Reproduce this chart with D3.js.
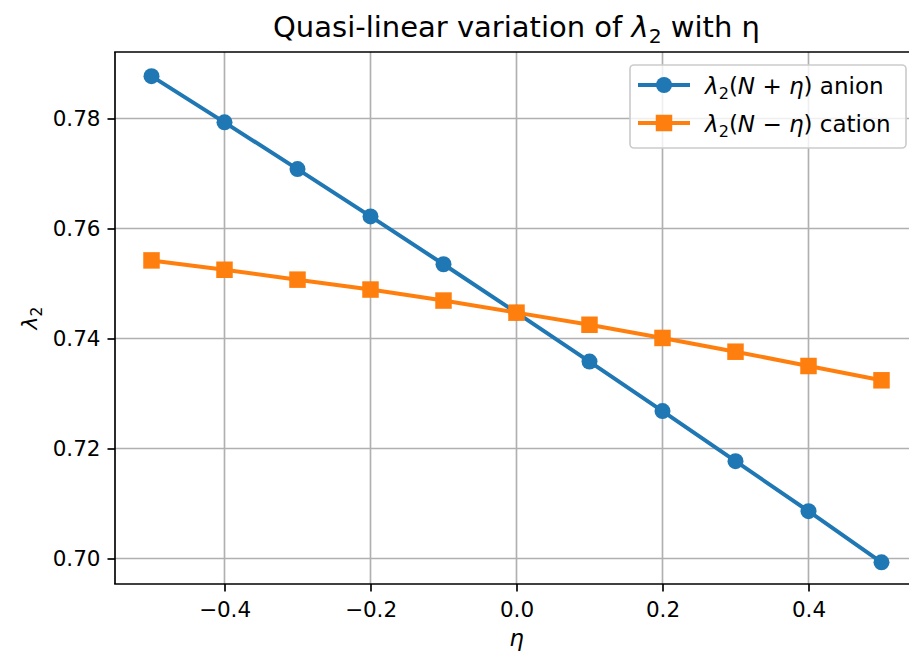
<!DOCTYPE html>
<html><head><meta charset="utf-8">
<script src="https://cdn.jsdelivr.net/npm/d3@7"></script>
<style>
body{margin:0;background:#fff;overflow:hidden}
svg{display:block;font-family:"DejaVu Sans",sans-serif}
text{white-space:pre}
</style>
</head><body><svg id="c" width="909" height="655"></svg>
<script>
const eta = [-0.5, -0.4, -0.3, -0.2, -0.1, 0.0, 0.1, 0.2, 0.3, 0.4, 0.5];
const anion = [0.7877, 0.7793, 0.7708, 0.7622, 0.7535, 0.7447, 0.7358, 0.7268, 0.7177, 0.7086, 0.6993];
const cation = [0.7542, 0.7525, 0.7507, 0.7489, 0.7469, 0.7447, 0.7425, 0.7401, 0.7376, 0.7350, 0.7324];
const xTicks = [-0.4, -0.2, 0.0, 0.2, 0.4];
const yTicks = [0.70, 0.72, 0.74, 0.76, 0.78];
const seriesNames = ["anion", "cation"];
const colors = ["#1f77b4", "#ff7f0e"];

const svg = d3.select("#c");
const L = 115, R = 918, T = 52, B = 584;
const x = d3.scaleLinear().domain([-0.55, 0.55]).range([L, R]);
const y = d3.scaleLinear().domain([0.70, 0.78]).range([558.5, 118.5]);

const FS = 21.5;

// grid
const g = svg.append("g");
g.selectAll(".vg").data(xTicks).join("line")
  .attr("x1", d => x(d)).attr("x2", d => x(d)).attr("y1", T).attr("y2", B)
  .attr("stroke", "#b0b0b0").attr("stroke-width", 1.67);
g.selectAll(".hg").data(yTicks).join("line")
  .attr("x1", L).attr("x2", R).attr("y1", d => y(d)).attr("y2", d => y(d))
  .attr("stroke", "#b0b0b0").attr("stroke-width", 1.67);

// axes
const fx = d3.format(".1f"), fy = d3.format(".2f");
const xAxis = d3.axisBottom(x).tickValues(xTicks).tickFormat(fx).tickSize(7.5).tickPadding(8);
const yAxis = d3.axisLeft(y).tickValues(yTicks).tickFormat(fy).tickSize(7.5).tickPadding(7);
const gx = svg.append("g").attr("transform", `translate(0,${B})`).call(xAxis);
const gy = svg.append("g").attr("transform", `translate(${L},0)`).call(yAxis);
[gx, gy].forEach(a => {
  a.select(".domain").remove();
  a.selectAll(".tick line").attr("stroke", "#000").attr("stroke-width", 1.67);
  a.selectAll(".tick text").attr("fill", "#000").attr("font-size", FS)
   .attr("font-family", "DejaVu Sans");
});
gx.selectAll(".tick text").attr("dy", "0.8em");

// spines
svg.append("line").attr("x1", L).attr("x2", L).attr("y1", T).attr("y2", B).attr("stroke", "#000").attr("stroke-width", 1.67);
svg.append("line").attr("x1", L).attr("x2", R).attr("y1", B).attr("y2", B).attr("stroke", "#000").attr("stroke-width", 1.67).attr("stroke-linecap", "square");
svg.append("line").attr("x1", L).attr("x2", R).attr("y1", T).attr("y2", T).attr("stroke", "#000").attr("stroke-width", 1.67).attr("stroke-linecap", "square");
svg.append("line").attr("x1", R).attr("x2", R).attr("y1", T).attr("y2", B).attr("stroke", "#000").attr("stroke-width", 1.67);

// series
const line = d3.line().x(d => x(d[0])).y(d => y(d[1]));
const sym = [d3.symbolCircle, d3.symbolSquare];
const msize = [Math.PI * 8 * 8, 16.5 * 16.5];
[anion, cation].forEach((vals, i) => {
  const pts = eta.map((e, j) => [e, vals[j]]);
  svg.append("path").datum(pts).attr("d", line).attr("fill", "none")
    .attr("stroke", colors[i]).attr("stroke-width", 4);
  svg.append("g").selectAll("path").data(pts).join("path")
    .attr("d", d3.symbol(sym[i], msize[i]))
    .attr("transform", d => `translate(${x(d[0])},${y(d[1])})`)
    .attr("fill", colors[i]);
});

// math text helper
function mtext(sel, parts, size) {
  let shifted = false;
  parts.forEach(p => {
    const ts = sel.append("tspan").text(p.t);
    if (p.it) ts.attr("font-style", "italic");
    if (p.sub) {
      ts.attr("font-size", size * 0.7).attr("dy", size * 0.22);
      shifted = true;
    } else if (shifted) {
      ts.attr("dy", -size * 0.22);
      shifted = false;
    }
  });
}

// title
const TS = 29;
const title = svg.append("text").attr("x", 516.5).attr("y", 37).attr("text-anchor", "middle")
  .attr("font-size", TS).attr("fill", "#000");
mtext(title, [{t: "Quasi-linear variation of "}, {t: "λ", it: true}, {t: "2", sub: true}, {t: " with η"}], TS);

// axis labels
svg.append("text").attr("x", 516.5).attr("y", 646).attr("text-anchor", "middle")
  .attr("font-size", 23).attr("font-style", "italic").text("η");
const yl = svg.append("text").attr("transform", `translate(37,${(T + B) / 2}) rotate(-90)`)
  .attr("text-anchor", "middle").attr("font-size", 22);
mtext(yl, [{t: "λ", it: true}, {t: "2", sub: true}], 22);

// legend
const LS = 23;
const lg = svg.append("g");
lg.append("rect").attr("x", 630).attr("y", 65).attr("width", 276).attr("height", 83)
  .attr("rx", 4).attr("fill", "#fff").attr("fill-opacity", 0.8)
  .attr("stroke", "#cccccc").attr("stroke-width", 1.67);
const labels = [
  [{t: "λ", it: true}, {t: "2", sub: true}, {t: "("}, {t: "N", it: true}, {t: " + "}, {t: "η", it: true}, {t: ")"}, {t: " anion"}],
  [{t: "λ", it: true}, {t: "2", sub: true}, {t: "("}, {t: "N", it: true}, {t: " − "}, {t: "η", it: true}, {t: ")"}, {t: " cation"}]
];
seriesNames.forEach((n, i) => {
  const cy = 85 + i * 38;
  lg.append("line").attr("x1", 638).attr("x2", 690).attr("y1", cy).attr("y2", cy)
    .attr("stroke", colors[i]).attr("stroke-width", 4);
  lg.append("path").attr("d", d3.symbol(sym[i], msize[i]))
    .attr("transform", `translate(664,${cy})`).attr("fill", colors[i]);
  const t = lg.append("text").attr("x", 705).attr("y", cy + 8.5).attr("font-size", LS).attr("fill", "#000");
  mtext(t, labels[i], LS);
});
</script>
</body></html>
